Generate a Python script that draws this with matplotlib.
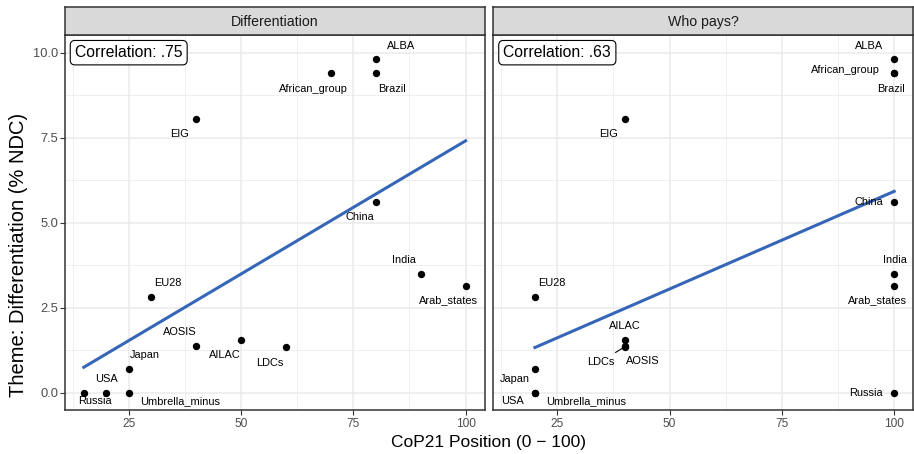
import matplotlib.pyplot as plt
import numpy as np

plt.rcParams['font.family'] = ['Liberation Sans', 'DejaVu Sans']

# Data
countries = ["ALBA", "African_group", "Brazil", "EIG", "China", "India",
             "Arab_states", "EU28", "AOSIS", "AILAC", "LDCs", "Japan",
             "Russia", "USA", "Umbrella_minus"]
theme_ndc = [9.8, 9.4, 9.4, 8.05, 5.6, 3.5, 3.15, 2.8, 1.36, 1.55, 1.35, 0.7,
             0.0, 0.0, 0.0]
pos_differentiation = [80, 70, 80, 40, 80, 90, 100, 30, 40, 50, 60, 25, 15, 20, 25]
pos_who_pays = [100, 100, 100, 40, 100, 100, 100, 20, 40, 40, 40, 20, 100, 20, 20]
panel_titles = ["Differentiation", "Who pays?"]
corr_labels = ["Correlation: .75", "Correlation: .63"]
x_ticks = [25, 50, 75, 100]
y_ticks = [0.0, 2.5, 5.0, 7.5, 10.0]

# label offsets (pixels, dx right, dy down) mimicking ggrepel placement
offsets_diff = {
    "ALBA": (25, -13), "Brazil": (16, 16), "African_group": (-17, 16),
    "EIG": (-17, 15), "China": (-16, 15), "India": (-17, -14),
    "Arab_states": (-17, 15), "EU28": (17, -14), "AOSIS": (-16, -14),
    "AILAC": (-16, 15), "LDCs": (-16, 16), "Japan": (16, -14),
    "USA": (0, -14), "Russia": (11, 8), "Umbrella_minus": (51, 8),
}
offsets_pays = {
    "ALBA": (-25, -13), "African_group": (-49, -3), "Brazil": (-3, 16),
    "EIG": (-16, 15), "China": (-25, 0), "India": (1, -14),
    "Arab_states": (-17, 15), "EU28": (17, -14), "AILAC": (0, -14),
    "LDCs": (-24, 15), "AOSIS": (18, 15), "Japan": (-20, 10),
    "USA": (-22, 8), "Umbrella_minus": (51, 8), "Russia": (-28, 0),
}

W, H = 914, 454
fig = plt.figure(figsize=(W / 100, H / 100), dpi=100)

panels = [(64.7, pos_differentiation, offsets_diff),
          (493.3, pos_who_pays, offsets_pays)]
pw = 420
top_px, bot_px = 35, 410

y = np.array(theme_ndc)
for i, (x0, xs, offs) in enumerate(panels):
    ax = fig.add_axes([x0 / W, (H - bot_px) / H, pw / W, (bot_px - top_px) / H])
    x = np.array(xs, dtype=float)
    ax.set_xlim(10.75, 104.25)
    ax.set_ylim(-0.51, 10.52)
    ax.set_xticks(x_ticks)
    ax.set_yticks(y_ticks)
    ax.set_xticks([12.5, 37.5, 62.5, 87.5], minor=True)
    ax.set_yticks([1.25, 3.75, 6.25, 8.75], minor=True)
    ax.grid(which='major', color='#EBEBEB', lw=1.1)
    ax.grid(which='minor', color='#EBEBEB', lw=0.55)
    ax.set_axisbelow(True)
    for s in ax.spines.values():
        s.set_color('#333333')
        s.set_linewidth(1.1)
    ax.tick_params(which='major', length=3.6, color='#333333', width=0.8,
                   labelcolor='#4D4D4D')
    ax.tick_params(axis='x', labelsize=8.6, pad=2)
    ax.tick_params(axis='y', labelsize=9.3, pad=1.2)
    ax.tick_params(which='minor', length=0)
    ax.set_yticklabels([f"{v:.1f}" for v in y_ticks])
    if i == 1:
        ax.tick_params(axis='y', left=False, labelleft=False)

    # linear fit like geom_smooth(method = "lm", se = FALSE)
    b, a = np.polyfit(x, y, 1)
    xl = np.array([x.min(), x.max()])
    ax.plot(xl, a + b * xl, color='#3566B8', lw=2.2, zorder=2)

    ax.scatter(x, y, s=28, color='black', zorder=3, linewidths=0)

    for name, xi, yi in zip(countries, x, y):
        dx, dy = offs[name]
        kw = {}
        if i == 1 and name == "LDCs":
            kw = dict(arrowprops=dict(arrowstyle='-', color='black', lw=0.8,
                                      shrinkA=2, shrinkB=2))
        ax.annotate(name, (xi, yi), xytext=(dx, -dy), textcoords='offset pixels',
                    ha='center', va='center', fontsize=7.9, color='black',
                    zorder=4, **kw)

    ax.text(25, 10.0, corr_labels[i], ha='center', va='center', fontsize=11.3,
            color='black', zorder=5,
            bbox=dict(boxstyle='round,pad=0.3,rounding_size=0.3',
                      fc='white', ec='black', lw=0.8))

    # facet strip
    sax = fig.add_axes([x0 / W, (H - top_px) / H, pw / W, 28 / H])
    sax.set_xticks([])
    sax.set_yticks([])
    sax.set_facecolor('#D9D9D9')
    for s in sax.spines.values():
        s.set_color('#333333')
        s.set_linewidth(1.1)
    sax.text(0.5, 0.48, panel_titles[i], ha='center', va='center',
             fontsize=10.2, color='#1A1A1A', transform=sax.transAxes)

fig.text(488 / W, (H - 443) / H, "CoP21 Position (0 \u2212 100)",
         ha='center', va='center', fontsize=12.5, color='black')
fig.text(19 / W, (H - 255) / H, "Theme: Differentiation (% NDC)",
         ha='center', va='center', rotation=90, fontsize=14.5, color='black')

fig.savefig("out.png", dpi=100)
plt.close()
